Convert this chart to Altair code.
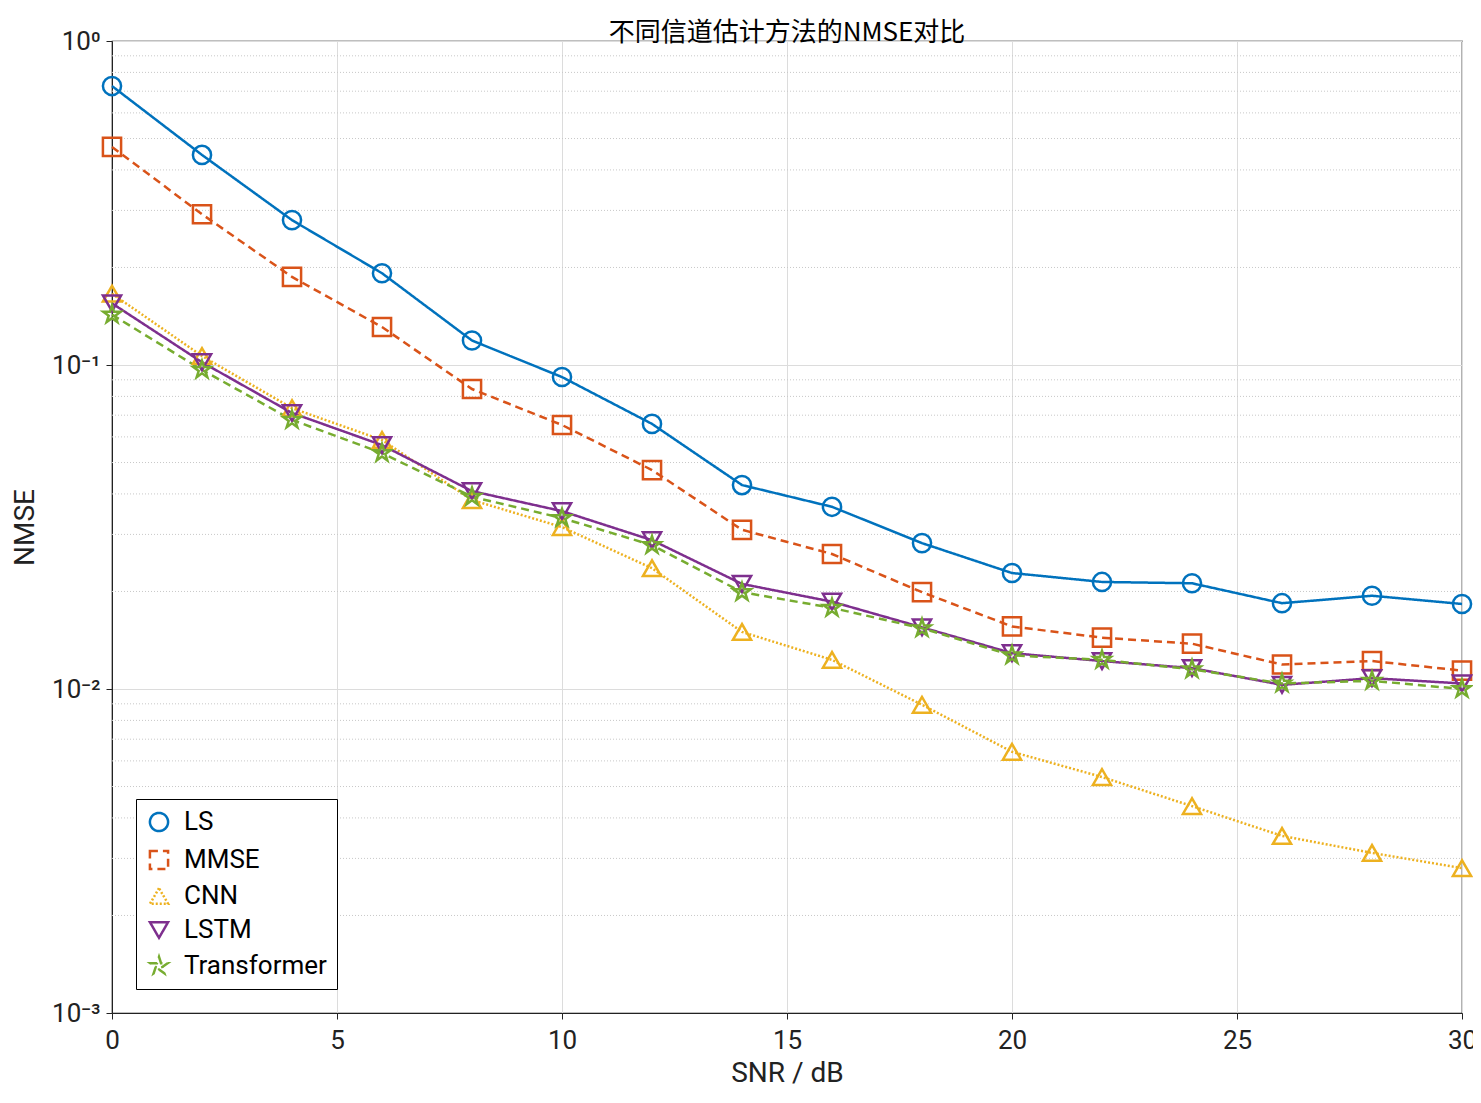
import altair as alt
import pandas as pd

snr = [0, 2, 4, 6, 8, 10, 12, 14, 16, 18, 20, 22, 24, 26, 28, 30]
ls = [0.726, 0.445, 0.280, 0.192, 0.119, 0.0918, 0.0658, 0.0426, 0.0365, 0.0282, 0.0228, 0.0214, 0.0212, 0.0184, 0.0194, 0.0183]
mmse = [0.471, 0.292, 0.187, 0.131, 0.0843, 0.0653, 0.0474, 0.0310, 0.0261, 0.0199, 0.0156, 0.0144, 0.0138, 0.0119, 0.0122, 0.0114]
cnn = [0.166, 0.1066, 0.0736, 0.0587, 0.0383, 0.0316, 0.0236, 0.0150, 0.0123, 0.00894, 0.00640, 0.00535, 0.00435, 0.00352, 0.00312, 0.00280]
lstm = [0.155, 0.102, 0.0711, 0.0566, 0.0408, 0.0354, 0.0288, 0.0211, 0.0186, 0.0155, 0.0129, 0.0122, 0.0116, 0.0103, 0.0108, 0.0104]
transformer = [0.143, 0.0966, 0.0677, 0.0535, 0.0392, 0.0337, 0.0278, 0.0199, 0.0178, 0.0154, 0.0127, 0.0123, 0.0115, 0.0104, 0.0106, 0.0100]

methods = ["LS", "MMSE", "CNN", "LSTM", "Transformer"]
colors = ["#0072BD", "#D95319", "#EDB120", "#7E2F8E", "#77AC30"]
star = "M0,-1L0.2245,-0.309L0.951,-0.309L0.363,0.118L0.588,0.809L0,0.382L-0.588,0.809L-0.363,0.118L-0.951,-0.309L-0.2245,-0.309Z"
shapes = ["circle", "square", "triangle-up", "triangle-down", star]
dashes = [[1, 0], [8, 5], [2, 2], [1, 0], [8, 5]]

rows = []
for name, vals in zip(methods, [ls, mmse, cnn, lstm, transformer]):
    for s, v in zip(snr, vals):
        rows.append({"SNR": s, "NMSE": v, "method": name})
df = pd.DataFrame(rows)

minor = pd.DataFrame({"y": [m * 10.0 ** e for e in (-3, -2, -1) for m in range(2, 10)]})

FONT = "Roboto"
x = alt.X("SNR:Q", title="SNR / dB", scale=alt.Scale(domain=[0, 30], nice=False),
          axis=alt.Axis(values=[0, 5, 10, 15, 20, 25, 30], format="d", gridColor="#dcdcdc",
                        labelFlush=False, labelFontSize=26, titleFontSize=28, labelPadding=8, titlePadding=6))
yscale = alt.Scale(type="log", domain=[0.001, 1], nice=False)
y = alt.Y("NMSE:Q", title="NMSE", scale=yscale,
          axis=alt.Axis(values=[0.001, 0.01, 0.1, 1], gridColor="#dcdcdc", labelFlush=False,
                        labelExpr="datum.value >= 1 ? '10⁰' : datum.value >= 0.1 ? '10⁻¹' : datum.value >= 0.01 ? '10⁻²' : '10⁻³'",
                        labelFontSize=26, titleFontSize=28, labelPadding=6, titlePadding=12))

grid = alt.Chart(minor).mark_rule(color="#c8c8c8", strokeDash=[1, 2], strokeWidth=1).encode(
    y=alt.Y("y:Q", scale=yscale), x=alt.value(0), x2=alt.value(1350))

color = alt.Color("method:N", scale=alt.Scale(domain=methods, range=colors), sort=methods,
                  legend=alt.Legend(title=None, orient="bottom-left", offset=24, fillColor="white",
                                    strokeColor="black", padding=10, labelFontSize=26, symbolSize=330,
                                    symbolStrokeWidth=2.5, symbolOpacity=1, symbolFillColor="transparent",
                                    rowPadding=8, labelFont=FONT, labelOffset=12))
shape = alt.Shape("method:N", scale=alt.Scale(domain=methods, range=shapes), sort=methods, legend=None)
dash = alt.StrokeDash("method:N", scale=alt.Scale(domain=methods, range=dashes), sort=methods, legend=None)

lines = alt.Chart(df).mark_line(strokeWidth=2.5).encode(x=x, y=y, color=color, strokeDash=dash, detail="method:N")
points = alt.Chart(df).mark_point(filled=False, size=330, strokeWidth=2.5, opacity=1).encode(
    x=x, y=y, color=color, shape=shape)

chart = alt.layer(grid, lines, points).properties(
    width=1350, height=972,
    title=alt.Title("不同信道估计方法的NMSE对比", fontSize=26, fontWeight="normal",
                    font="Noto Sans CJK SC", offset=4, dy=22),
    autosize=alt.AutoSizeParams(type="none"),
    padding={"left": 104, "top": 33, "right": 11, "bottom": 82},
).configure_view(stroke="black", strokeWidth=1.2).configure_axis(
    labelFont=FONT, titleFont=FONT, titleFontWeight="normal", labelColor="#222", titleColor="#222",
    domainColor="#222", tickColor="#222", tickSize=6,
)

chart.save("out.html", embed_options={"renderer": "svg", "actions": False})
